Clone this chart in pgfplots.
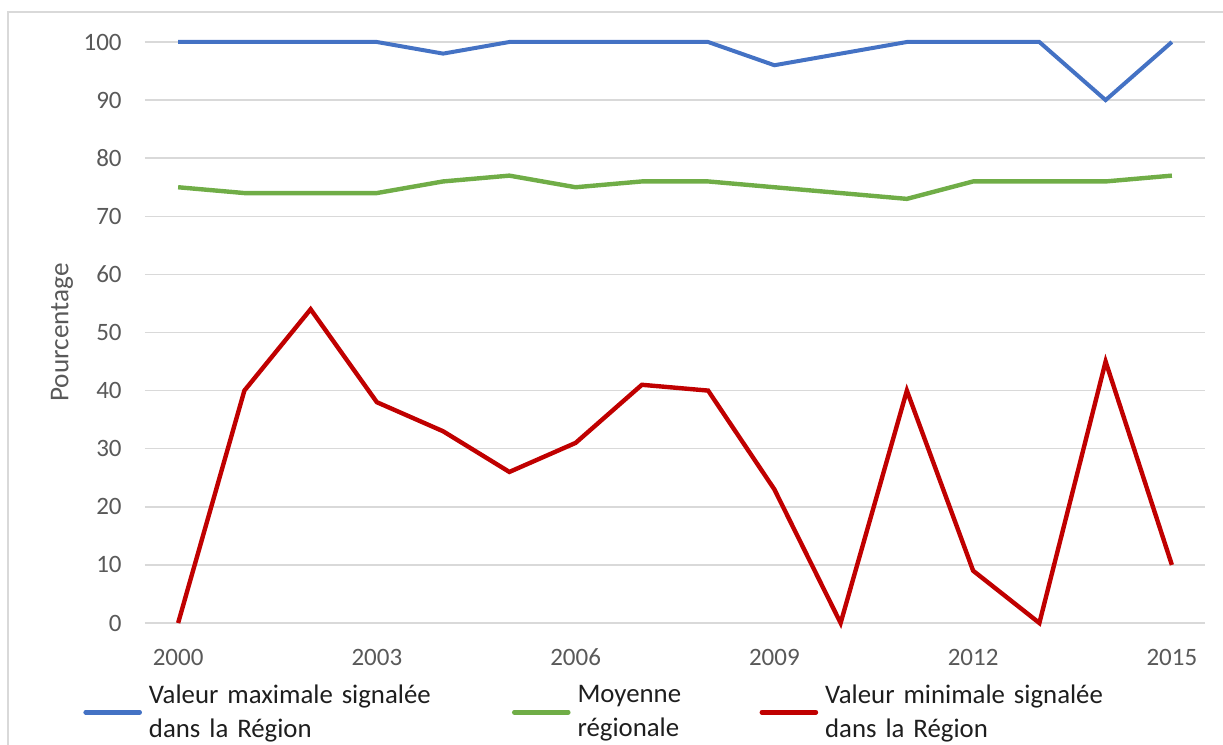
\documentclass[border=0pt]{standalone}
\usepackage{fontspec}
\setmainfont{Carlito}
\usepackage{pgfplots}
\pgfplotsset{compat=1.18}
\definecolor{cmax}{HTML}{4472C4}
\definecolor{cmean}{HTML}{70AD47}
\definecolor{cmin}{HTML}{C00000}
\definecolor{gridgray}{HTML}{D9D9D9}
\definecolor{tickgray}{HTML}{595959}
\definecolor{legtext}{HTML}{1E1E1E}
\begin{document}
\begin{tikzpicture}
\useasboundingbox (-72.5pt,-61pt) rectangle (539pt,311.5pt);
\draw[color=gridgray, line width=1pt] (-68.5pt,-80pt) -- (-68.5pt,305.5pt) -- (560pt,305.5pt);
\begin{axis}[
  scale only axis, width=530pt, height=290.5pt,
  xmin=1999.5, xmax=2015.5, ymin=0, ymax=100,
  clip=false,
  xtick={2000,2003,...,2015}, ytick={0,10,...,100},
  ymajorgrids, grid style={color=gridgray, line width=0.75pt},
  axis line style={draw=none}, major tick length=0pt,
  tick label style={font=\fontsize{12.5}{14}\selectfont, text=tickgray},
  /pgf/number format/assume math mode=true, /pgf/number format/1000 sep={},
  xticklabel style={anchor=center, yshift=-17pt},
  yticklabel style={anchor=east, inner sep=0pt, xshift=-11.5pt},
  ylabel={Pourcentage},
  every axis y label/.style={at={(axis description cs:-0.0783,0.5)}, rotate=90, anchor=center,
    font=\fontsize{13.6}{15}\selectfont, text=tickgray},
  legend columns=3,
  legend style={at={(axis description cs:-0.0585,0)}, anchor=north west, yshift=-30.5pt,
    draw=none, fill=none, inner sep=0pt, row sep=0pt,
    font=\fontsize{13.4}{17}\selectfont, text=legtext,
    nodes={inner sep=0pt, align=left},
    /tikz/every odd column/.append style={column sep=3.5pt},
    /tikz/every even column/.append style={column sep=0pt}},
  legend image code/.code={\draw[#1, line cap=round, line width=2.3pt] (0pt,-8.5pt) -- (27pt,-8.5pt);},
]
\addplot[cmax, line width=2pt] coordinates {
(2000,100) (2001,100) (2002,100) (2003,100) (2004,98) (2005,100) (2006,100) (2007,100)
(2008,100) (2009,96) (2010,98) (2011,100) (2012,100) (2013,100) (2014,90) (2015,100)};
\addlegendentry[text width=181.5pt]{Valeur maximale signalée\\dans la Région}
\addplot[cmean, line width=2.2pt] coordinates {
(2000,75) (2001,74) (2002,74) (2003,74) (2004,76) (2005,77) (2006,75) (2007,76)
(2008,76) (2009,75) (2010,74) (2011,73) (2012,76) (2013,76) (2014,76) (2015,77)};
\addlegendentry[text width=91pt]{Moyenne\\régionale}
\addplot[cmin, line width=2.2pt] coordinates {
(2000,0) (2001,40) (2002,54) (2003,38) (2004,33) (2005,26) (2006,31) (2007,41)
(2008,40) (2009,23) (2010,0) (2011,40) (2012,9) (2013,0) (2014,45) (2015,10)};
\addlegendentry[text width=150pt]{Valeur minimale signalée\\dans la Région}
\end{axis}
\end{tikzpicture}
\end{document}
